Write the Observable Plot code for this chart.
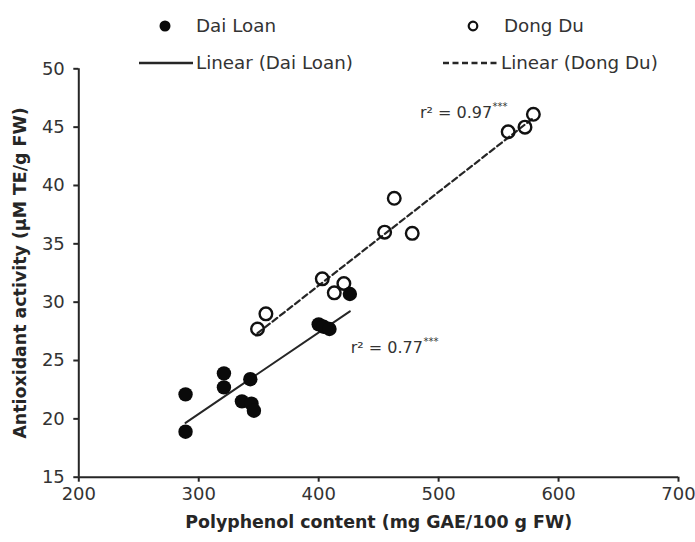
<!DOCTYPE html>
<html><head><meta charset="utf-8">
<script src="https://cdn.jsdelivr.net/npm/d3@7"></script>
<script src="https://cdn.jsdelivr.net/npm/@observablehq/plot@0.6"></script>
<style>
html,body{margin:0;padding:0;background:#fff;}
#wrap{position:relative;width:695px;height:542px;overflow:hidden;font-family:"DejaVu Sans",sans-serif;color:#333;}
#wrap svg{position:absolute;left:0;top:0;}
.lg{position:absolute;font-size:18.3px;line-height:22px;white-space:nowrap;color:#333;}
.sym{position:absolute;}
</style></head><body>
<div id="wrap"></div>
<script>
// ---- data ----
const seriesNames = ["Dai Loan", "Dong Du"];
const fitNames = ["Linear (Dai Loan)", "Linear (Dong Du)"];
const daiLoanX = [289, 289, 321, 321, 343, 336, 344, 346, 400, 404, 409, 426];
const daiLoanY = [22.1, 18.9, 23.9, 22.7, 23.4, 21.5, 21.3, 20.7, 28.1, 27.9, 27.7, 30.7];
const dongDuX = [349, 356, 403, 421, 413, 455, 478, 463, 558, 572, 579];
const dongDuY = [27.7, 29.0, 32.0, 31.6, 30.8, 36.0, 35.9, 38.9, 44.6, 45.0, 46.1];
const xTicks = [200, 300, 400, 500, 600, 700];
const yTicks = [15, 20, 25, 30, 35, 40, 45, 50];
const r2Texts = ["r\u00b2 = 0.77", "r\u00b2 = 0.97"];
const r2Stars = "***";
const xTitle = "Polyphenol content (mg GAE/100 g FW)";
const yTitle = "Antioxidant activity (\u00b5M TE/g FW)";

const daiLoan = daiLoanX.map((x, i) => ({x, y: daiLoanY[i]}));
const dongDu = dongDuX.map((x, i) => ({x, y: dongDuY[i]}));

const FONT = "DejaVu Sans";
const ink = "#262626";
const txt = "#333";

// measure text to place superscript stars
const ctx = document.createElement("canvas").getContext("2d");
ctx.font = `16px "${FONT}"`;
const w77 = ctx.measureText(r2Texts[0]).width;
const w97 = ctx.measureText(r2Texts[1]).width;

const chart = Plot.plot({
  width: 695,
  height: 542,
  marginTop: 68.3,
  marginBottom: 65.3,
  marginLeft: 78.3,
  marginRight: 17,
  x: {domain: [200, 700]},
  y: {domain: [15, 50]},
  style: {fontFamily: FONT, fontSize: "18px", color: txt, background: "transparent", overflow: "visible"},
  marks: [
    Plot.ruleX([xTicks[0]], {stroke: ink, strokeWidth: 2}),
    Plot.ruleY([yTicks[0]], {stroke: ink, strokeWidth: 2}),
    Plot.axisX({ticks: xTicks, tickSize: 5, tickPadding: 5, label: null, stroke: ink, strokeWidth: 2, fill: txt, fontSize: 18}),
    Plot.axisY({ticks: yTicks, tickSize: 5, tickPadding: 9, label: null, stroke: ink, strokeWidth: 2, fill: txt, fontSize: 18}),
    Plot.text([xTitle], {frameAnchor: "bottom", textAnchor: "middle", lineAnchor: "middle", dy: 45.5, fontWeight: "bold", fontSize: 17.4, fill: ink}),
    Plot.text([yTitle], {frameAnchor: "left", textAnchor: "middle", lineAnchor: "middle", rotate: -90, dx: -58, fontWeight: "bold", fontSize: 17.4, fill: ink}),
    Plot.linearRegressionY(daiLoan, {x: "x", y: "y", ci: 0, stroke: ink, strokeWidth: 2}),
    Plot.linearRegressionY(dongDu, {x: "x", y: "y", ci: 0, stroke: ink, strokeWidth: 2.2, strokeDasharray: "6,3.5"}),
    Plot.dot(dongDu, {x: "x", y: "y", r: 6.3, stroke: "#111", strokeWidth: 2.4, fill: "none"}),
    Plot.dot(daiLoan, {x: "x", y: "y", r: 7.2, fill: "#0a0a0a"}),
    Plot.text([r2Texts[0]], {x: 426.7, y: 26.1, textAnchor: "start", fontSize: 16, fill: txt}),
    Plot.text([r2Stars], {x: 426.7, y: 26.1, dx: w77 + 0.5, dy: -6, textAnchor: "start", fontSize: 10, fill: txt}),
    Plot.text([r2Texts[1]], {x: 484.4, y: 46.2, textAnchor: "start", fontSize: 16, fill: txt}),
    Plot.text([r2Stars], {x: 484.4, y: 46.2, dx: w97 + 0.5, dy: -6, textAnchor: "start", fontSize: 10, fill: txt})
  ]
});

const wrap = document.getElementById("wrap");
wrap.appendChild(chart);

// legend (HTML above the plot area)
function addText(s, left, cy) {
  const d = document.createElement("div");
  d.className = "lg"; d.textContent = s;
  d.style.left = left + "px"; d.style.top = (cy - 11) + "px";
  wrap.appendChild(d);
}
function addSym(svgInner, left, top, w, h) {
  const d = document.createElement("div");
  d.className = "sym";
  d.style.left = left + "px"; d.style.top = top + "px";
  d.innerHTML = `<svg width="${w}" height="${h}" viewBox="0 0 ${w} ${h}">${svgInner}</svg>`;
  wrap.appendChild(d);
}
addSym(`<circle cx="8" cy="8" r="5.5" fill="#0a0a0a"/>`, 157, 18, 16, 16);
addText(seriesNames[0], 196, 26);
addSym(`<circle cx="8" cy="8" r="4.3" fill="none" stroke="#111" stroke-width="2.2"/>`, 465, 18, 16, 16);
addText(seriesNames[1], 504, 26);
addSym(`<line x1="0" y1="5" x2="54" y2="5" stroke="${ink}" stroke-width="2.5"/>`, 139, 58, 56, 10);
addText(fitNames[0], 196, 63);
addSym(`<line x1="0" y1="5" x2="55" y2="5" stroke="${ink}" stroke-width="2.5" stroke-dasharray="6,3.5"/>`, 443, 58, 57, 10);
addText(fitNames[1], 501, 63);
</script>
</body></html>
